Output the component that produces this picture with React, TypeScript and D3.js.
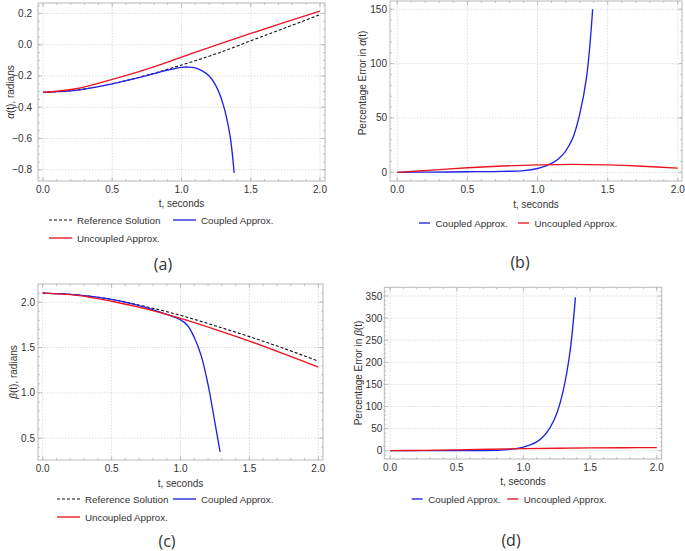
import * as d3 from 'd3';

// shared time grid (seconds)
const tGrid = [0, 0.25, 0.5, 0.75, 1.0, 1.25, 1.5, 1.75, 2.0];
const xTicks = [0, 0.5, 1.0, 1.5, 2.0];

// (a) alpha(t), radians
const alphaRef = [-0.305, -0.29, -0.25, -0.195, -0.13, -0.058, 0.025, 0.108, 0.193];
const alphaUnc = [-0.305, -0.28, -0.222, -0.156, -0.08, -0.003, 0.072, 0.144, 0.215];
const alphaCoupledT = [0, 0.25, 0.5, 0.75, 0.9, 1.0, 1.05, 1.1, 1.15, 1.2, 1.25, 1.3, 1.35, 1.38];
const alphaCoupled = [-0.305, -0.29, -0.25, -0.198, -0.163, -0.145, -0.143, -0.148, -0.167, -0.2, -0.265, -0.38, -0.58, -0.82];
const alphaTicks = [0.2, 0.0, -0.2, -0.4, -0.6, -0.8];

// (b) percentage error in alpha(t)
const errAlphaCoupledT = [0, 0.25, 0.5, 0.75, 0.9, 1.0, 1.05, 1.1, 1.15, 1.2, 1.25, 1.3, 1.35, 1.393];
const errAlphaCoupled = [0, 0.2, 0.5, 0.9, 1.6, 3.5, 5.5, 8.2, 12.5, 19.5, 31, 53, 88, 150];
const errAlphaUnc = [0, 2.0, 4.2, 5.8, 6.8, 7.3, 6.8, 5.6, 3.8];
const errAlphaTicks = [0, 50, 100, 150];

// (c) beta(t), radians
const betaRef = [2.1, 2.08, 2.03, 1.95, 1.855, 1.74, 1.62, 1.49, 1.35];
const betaUnc = [2.1, 2.075, 2.01, 1.925, 1.82, 1.7, 1.57, 1.43, 1.285];
const betaCoupledT = [0, 0.25, 0.5, 0.75, 0.9, 1.0, 1.05, 1.1, 1.15, 1.2, 1.25, 1.287];
const betaCoupled = [2.1, 2.08, 2.03, 1.94, 1.865, 1.805, 1.745, 1.61, 1.41, 1.09, 0.67, 0.35];
const betaTicks = [2.0, 1.5, 1.0, 0.5];

// (d) percentage error in beta(t)
const errBetaCoupledT = [0, 0.5, 0.8, 0.9, 1.0, 1.05, 1.1, 1.15, 1.2, 1.25, 1.3, 1.35, 1.39];
const errBetaCoupled = [0, 0.3, 1, 3, 8, 13, 20, 32, 52, 84, 138, 225, 347];
const errBetaUnc = [0, 0.8, 2.0, 3.3, 4.6, 5.6, 6.3, 6.7, 7.0];
const errBetaTicks = [0, 50, 100, 150, 200, 250, 300, 350];

const BLUE = '#2222e6';
const RED = '#ea1520';
const INK = '#333';
const FONT = '"Liberation Sans", Arial, sans-serif';

type Series = { t: number[]; v: number[]; color: string; dash?: string };
type LegendItem = { label: string; color: string; dash?: string; x: number; y: number };

type PanelProps = {
  box: [number, number, number, number]; // left, top, right, bottom
  xDom: [number, number];
  yDom: [number, number];
  yTicks: number[];
  yMinor: number;
  yFmt: (v: number) => string;
  yLabelGap: number;
  yLabel: React.ReactNode;
  yLabelPos: [number, number];
  xLabelY: number;
  series: Series[];
  legend: LegendItem[];
  caption: string;
  captionPos: [number, number];
};

const minus = (s: string) => s.replace('-', '\u2212');

function Panel(p: PanelProps) {
  const [l, t, r, b] = p.box;
  const x = d3.scaleLinear().domain(p.xDom).range([l, r]);
  const y = d3.scaleLinear().domain(p.yDom).range([b, t]);
  const xMinor = d3.range(0, 2.0001, 0.1);
  const yMinor = d3.range(
    Math.ceil(p.yDom[0] / p.yMinor) * p.yMinor,
    p.yDom[1],
    p.yMinor
  );
  const line = d3
    .line<[number, number]>()
    .x((d) => x(d[0]))
    .y((d) => y(d[1]))
    .curve(d3.curveCatmullRom.alpha(0.5));
  const small = p.legend.length === 2;

  return (
    <g>
      {/* grid */}
      {xTicks.map((v) => (
        <line key={'gx' + v} x1={x(v)} x2={x(v)} y1={t} y2={b} stroke="#d4d4d4" strokeDasharray="1.5 1.5" strokeWidth={0.8} />
      ))}
      {p.yTicks.map((v) => (
        <line key={'gy' + v} x1={l} x2={r} y1={y(v)} y2={y(v)} stroke="#d4d4d4" strokeDasharray="1.5 1.5" strokeWidth={0.8} />
      ))}
      {/* frame ticks */}
      {xMinor.map((v) => (
        <g key={'mx' + v} stroke="#b8b8b8" strokeWidth={0.8}>
          <line x1={x(v)} x2={x(v)} y1={b} y2={b - 2} />
          <line x1={x(v)} x2={x(v)} y1={t} y2={t + 2} />
        </g>
      ))}
      {xTicks.map((v) => (
        <g key={'tx' + v} stroke="#b8b8b8" strokeWidth={0.8}>
          <line x1={x(v)} x2={x(v)} y1={b} y2={b - 4} />
          <line x1={x(v)} x2={x(v)} y1={t} y2={t + 4} />
        </g>
      ))}
      {yMinor.map((v) => (
        <g key={'my' + v} stroke="#b8b8b8" strokeWidth={0.8}>
          <line x1={l} x2={l + 2} y1={y(v)} y2={y(v)} />
          <line x1={r} x2={r - 2} y1={y(v)} y2={y(v)} />
        </g>
      ))}
      {p.yTicks.map((v) => (
        <g key={'ty' + v} stroke="#b8b8b8" strokeWidth={0.8}>
          <line x1={l} x2={l + 4} y1={y(v)} y2={y(v)} />
          <line x1={r} x2={r - 4} y1={y(v)} y2={y(v)} />
        </g>
      ))}
      <rect x={l} y={t} width={r - l} height={b - t} fill="none" stroke="#b8b8b8" strokeWidth={1} />
      {/* tick labels */}
      {xTicks.map((v) => (
        <text key={'lx' + v} x={x(v)} y={b + 11.5} textAnchor="middle" fontSize={10} fill={INK} fontFamily={FONT}>
          {d3.format('.1f')(v)}
        </text>
      ))}
      {p.yTicks.map((v) => (
        <text key={'ly' + v} x={l - p.yLabelGap} y={y(v) + 3.5} textAnchor="end" fontSize={10} fill={INK} fontFamily={FONT}>
          {minus(p.yFmt(v))}
        </text>
      ))}
      {/* series */}
      {p.series.map((s, i) => (
        <path
          key={'s' + i}
          d={line(s.t.map((tv, k) => [tv, s.v[k]] as [number, number])) ?? ''}
          fill="none"
          stroke={s.color}
          strokeWidth={s.dash ? 1.1 : 1.35}
          strokeDasharray={s.dash}
        />
      ))}
      {/* axis labels */}
      <text x={(l + r) / 2} y={p.xLabelY} textAnchor="middle" fontSize={10} fill={INK} fontFamily={FONT}>
        t, seconds
      </text>
      <text
        transform={`translate(${p.yLabelPos[0]},${p.yLabelPos[1]}) rotate(-90)`}
        textAnchor="middle"
        fontSize={10}
        fill={INK}
        fontFamily={FONT}
      >
        {p.yLabel}
      </text>
      {/* legend */}
      {p.legend.map((it) => (
        <g key={it.label}>
          <line
            x1={it.x}
            x2={it.x + (small ? 11 : 23)}
            y1={it.y - 3.5}
            y2={it.y - 3.5}
            stroke={it.color}
            strokeWidth={it.dash ? 1.1 : 1.35}
            strokeDasharray={it.dash}
          />
          <text x={it.x + (small ? 16.5 : 28)} y={it.y} fontSize={9.8} fill={INK} fontFamily={FONT}>
            {it.label}
          </text>
        </g>
      ))}
      <text x={p.captionPos[0]} y={p.captionPos[1]} textAnchor="middle" fontSize={16} fill={INK} fontFamily='"Open Sans", sans-serif'>
        {p.caption}
      </text>
    </g>
  );
}

export default function App() {
  return (
    <svg width={685} height={551} style={{ position: 'absolute', left: 0, top: 0, background: '#fff' }}>
      <Panel
        box={[38, 3, 325, 181]}
        xDom={[-0.036, 2.036]}
        yDom={[-0.872, 0.267]}
        yTicks={alphaTicks}
        yMinor={0.05}
        yFmt={d3.format('.1f')}
        yLabelGap={6}
        yLabel={<><tspan fontStyle="italic">α</tspan>(t), radians</>}
        yLabelPos={[14, 92]}
        xLabelY={206.5}
        series={[
          { t: tGrid, v: alphaRef, color: '#111', dash: '3 2' },
          { t: alphaCoupledT, v: alphaCoupled, color: BLUE },
          { t: tGrid, v: alphaUnc, color: RED },
        ]}
        legend={[
          { label: 'Reference Solution', color: '#111', dash: '3 2', x: 49, y: 223.5 },
          { label: 'Coupled Approx.', color: BLUE, x: 173, y: 223.5 },
          { label: 'Uncoupled Approx.', color: RED, x: 49, y: 241.5 },
        ]}
        caption="(a)"
        captionPos={[163, 270]}
      />
      <Panel
        box={[390, 1, 682, 181]}
        xDom={[-0.052, 2.03]}
        yDom={[-8, 157.6]}
        yTicks={errAlphaTicks}
        yMinor={10}
        yFmt={d3.format('d')}
        yLabelGap={3}
        yLabel={<>Percentage Error in <tspan fontStyle="italic">α</tspan>(t)</>}
        yLabelPos={[366, 83]}
        xLabelY={207.5}
        series={[
          { t: errAlphaCoupledT, v: errAlphaCoupled, color: BLUE },
          { t: tGrid, v: errAlphaUnc, color: RED },
        ]}
        legend={[
          { label: 'Coupled Approx.', color: BLUE, x: 419, y: 226.5 },
          { label: 'Uncoupled Approx.', color: RED, x: 518, y: 226.5 },
        ]}
        caption="(b)"
        captionPos={[520, 268]}
      />
      <Panel
        box={[38, 284, 323, 460]}
        xDom={[-0.034, 2.034]}
        yDom={[0.26, 2.2]}
        yTicks={betaTicks}
        yMinor={0.1}
        yFmt={d3.format('.1f')}
        yLabelGap={3}
        yLabel={<><tspan fontStyle="italic">β</tspan>(t), radians</>}
        yLabelPos={[17, 372]}
        xLabelY={486.5}
        series={[
          { t: tGrid, v: betaRef, color: '#111', dash: '3 2' },
          { t: betaCoupledT, v: betaCoupled, color: BLUE },
          { t: tGrid, v: betaUnc, color: RED },
        ]}
        legend={[
          { label: 'Reference Solution', color: '#111', dash: '3 2', x: 57, y: 502.5 },
          { label: 'Coupled Approx.', color: BLUE, x: 173, y: 502.5 },
          { label: 'Uncoupled Approx.', color: RED, x: 57, y: 520.5 },
        ]}
        caption="(c)"
        captionPos={[167, 547]}
      />
      <Panel
        box={[384.3, 287.3, 661.7, 459]}
        xDom={[-0.043, 2.037]}
        yDom={[-18.8, 369.7]}
        yTicks={errBetaTicks}
        yMinor={10}
        yFmt={d3.format('d')}
        yLabelGap={2}
        yLabel={<>Percentage Error in <tspan fontStyle="italic">β</tspan>(t)</>}
        yLabelPos={[362, 373]}
        xLabelY={484.5}
        series={[
          { t: errBetaCoupledT, v: errBetaCoupled, color: BLUE },
          { t: tGrid, v: errBetaUnc, color: RED },
        ]}
        legend={[
          { label: 'Coupled Approx.', color: BLUE, x: 411.7, y: 502.5 },
          { label: 'Uncoupled Approx.', color: RED, x: 507.3, y: 502.5 },
        ]}
        caption="(d)"
        captionPos={[511, 546]}
      />
    </svg>
  );
}
